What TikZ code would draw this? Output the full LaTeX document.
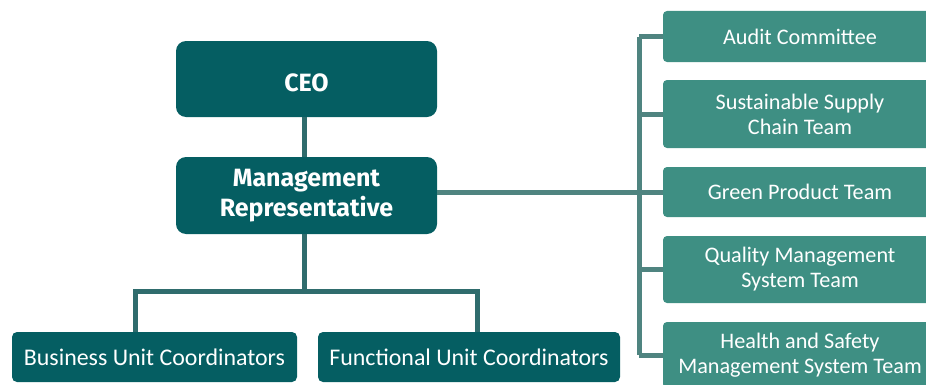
\documentclass[tikz,border=0pt]{standalone}
\usepackage{fontspec}
\setmainfont{Carlito}
\newfontfamily\boldfam{Fira Sans}
\definecolor{darkteal}{HTML}{055E62}
\definecolor{lightteal}{HTML}{3E8F83}
\definecolor{darkline}{HTML}{2F6C6D}
\definecolor{lightline}{HTML}{4F8480}
\tikzset{
  topbox/.style={fill=darkteal, rounded corners=10pt, text=white, align=center, inner sep=0pt,
    font=\boldfam\bfseries\fontsize{25}{30}\selectfont},
  unitbox/.style={fill=darkteal, rounded corners=5pt, text=white, align=center, inner sep=0pt,
    minimum height=50pt, font=\fontsize{23.9}{28}\selectfont},
  teambox/.style={fill=lightteal, rounded corners=4pt, text=white, align=center, inner sep=0pt,
    minimum width=274pt, font=\fontsize{22.2}{25}\selectfont},
  darkconn/.style={draw=darkline, line width=5pt},
  lightconn/.style={draw=lightline, line width=5pt},
}
\begin{document}
\begin{tikzpicture}[x=1pt,y=1pt]
\useasboundingbox (0,0) rectangle (926,384);
\clip (0,0) rectangle (926,384);
\node[topbox, minimum width=261pt, minimum height=76pt] (ceo) at (306.5,305) {\raisebox{-12.5pt}[0pt][0pt]{CEO}};
\node[topbox, minimum width=261pt, minimum height=77pt] (mr) at (306.5,188.5) {Management\\Representative};
\node[unitbox, minimum width=285pt] (bu) at (154.5,27) {Business Unit Coordinators};
\node[unitbox, minimum width=302pt] (fu) at (469,27) {Functional Unit Coordinators};
\node[teambox, minimum height=51pt] (ac) at (800,347.5) {Audit Committee};
\node[teambox, minimum height=68pt] (ssc) at (800,270) {Sustainable Supply\\Chain Team};
\node[teambox, minimum height=50pt] (gp) at (800,192) {Green Product Team};
\node[teambox, minimum height=67pt] (qms) at (800,114.5) {Quality Management\\System Team};
\node[teambox, minimum height=66pt] (hs) at (800,29) {Health and Safety\\Management System Team};
\coordinate (bar) at (304,93);
\coordinate (bl) at (135,93);
\coordinate (br) at (477,93);
\coordinate (trunk) at (639,192);
\draw[darkconn] (ceo.south -| bar) -- (mr.north -| bar);
\draw[darkconn] (mr.south -| bar) -- (bar);
\draw[darkconn] (bl |- bu.north) -- (bl) -- (br) -- (br |- fu.north);
\draw[lightconn] (mr.east |- gp.west) -- (gp.west);
\draw[lightconn] (trunk |- ac.west) -- (trunk |- hs.west);
\draw[lightconn] (trunk |- ac.west) -- (ac.west);
\draw[lightconn] (trunk |- ssc.west) -- (ssc.west);
\draw[lightconn] (trunk |- qms.west) -- (qms.west);
\draw[lightconn] (trunk |- hs.west) -- (hs.west);
\end{tikzpicture}
\end{document}
